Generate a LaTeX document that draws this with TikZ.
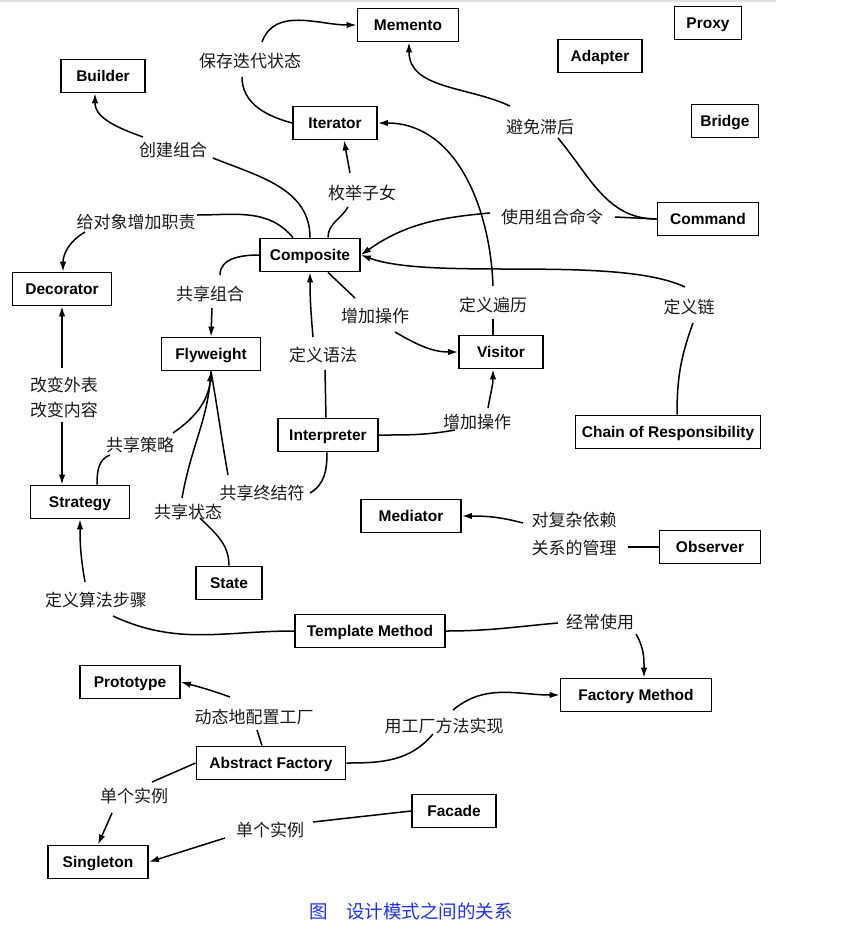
\documentclass[tikz,border=0pt]{standalone}
\usepackage{fontspec}
\setmainfont{Liberation Sans}
\newfontfamily\cjk{Noto Sans CJK SC}
\usetikzlibrary{positioning, arrows.meta}
\definecolor{capblue}{RGB}{30,50,225}

\begin{document}
\begin{tikzpicture}[
    x=1pt, y=1pt,
    >={Latex[length=10pt, width=6.5pt]},
    dpbox/.style={draw=black, line width=1.8pt, minimum height=33pt, inner sep=0pt, text height=10.5pt, text depth=0pt, font=\fontsize{15.5}{17}\selectfont\bfseries},
    link/.style={draw=black, line width=1.5pt},
    tag/.style={inner sep=2pt, text=black!90, font=\fontsize{17}{25}\selectfont\cjk}
]
\useasboundingbox (0,0) rectangle (854,-932);
\draw[black!12, line width=2pt] (0,-1) -- (776,-1);

% Pattern boxes
\node[dpbox, minimum width=101pt] (memento) at (408,-25) {Memento};
\node[dpbox, minimum width=67pt] (proxy) at (708,-23) {Proxy};
\node[dpbox, minimum width=84pt] (adapter) at (600,-56) {Adapter};
\node[dpbox, minimum width=67pt] (bridge) at (725,-121) {Bridge};
\node[dpbox, minimum width=101pt] (command) at (708,-219) {Command};
\node[dpbox, minimum width=84pt] (builder) at (103,-76) {Builder};
\node[dpbox, minimum width=84pt] (iterator) at (335,-123) {Iterator};
\node[dpbox, minimum width=100pt] (composite) at (310,-255) {Composite};
\node[dpbox, minimum width=99pt] (decorator) at (62,-289) {Decorator};
\node[dpbox, minimum width=99pt] (flyweight) at (211,-354) {Flyweight};
\node[dpbox, minimum width=84pt] (visitor) at (501,-352) {Visitor};
\node[dpbox, minimum width=100pt] (interpreter) at (328,-435) {Interpreter};
\node[dpbox, minimum width=185pt] (chain) at (668,-432) {Chain of Responsibility};
\node[dpbox, minimum width=99pt] (strategy) at (80,-502) {Strategy};
\node[dpbox, minimum width=100pt] (mediator) at (411,-516) {Mediator};
\node[dpbox, minimum width=101pt] (observer) at (710,-547) {Observer};
\node[dpbox, minimum width=66pt] (state) at (229,-583) {State};
\node[dpbox, minimum width=150pt] (template) at (370,-631) {Template Method};
\node[dpbox, minimum width=100pt] (prototype) at (130,-682) {Prototype};
\node[dpbox, minimum width=151pt] (factorymethod) at (636,-695) {Factory Method};
\node[dpbox, minimum width=149pt] (abstractfactory) at (271,-763) {Abstract Factory};
\node[dpbox, minimum width=84pt] (facade) at (454,-811) {Facade};
\node[dpbox, minimum width=100pt] (singleton) at (98,-862) {Singleton};

% Relation labels
\node[tag] (saveiter) at (250,-61) {保存迭代状态};
\node[tag] (create) at (173,-150) {创建组合};
\node[tag] (enumkids) at (362,-193) {枚举子女};
\node[tag] (addresp) at (136,-222) {给对象增加职责};
\node[tag] (sharecomp) at (210,-294) {共享组合};
\node[tag] (addop) at (375,-316) {增加操作};
\node[tag] (avoidlag) at (540,-127) {避免滞后};
\node[tag] (usecmd) at (552,-217) {使用组合命令};
\node[tag] (deftrav) at (493,-305) {定义遍历};
\node[tag] (defchain) at (689,-307) {定义链};
\node[tag] (defgram) at (323,-355) {定义语法};
\node[tag, align=center] (skin) at (64,-397) {改变外表\\改变内容};
\node[tag] (sharestrat) at (140,-445) {共享策略};
\node[tag] (shareterm) at (262,-493) {共享终结符};
\node[tag] (sharestate) at (188,-512) {共享状态};
\node[tag] (addoptwo) at (477,-422) {增加操作};
\node[tag, align=center, font=\fontsize{17}{28}\selectfont\cjk] (depmgmt) at (574,-534) {对复杂依赖\\关系的管理};
\node[tag] (algsteps) at (96,-600) {定义算法步骤};
\node[tag] (oftenuse) at (600,-622) {经常使用};
\node[tag] (dynconf) at (254,-717) {动态地配置工厂};
\node[tag] (byfm) at (444,-726) {用工厂方法实现};
\node[tag] (singleone) at (134,-796) {单个实例};
\node[tag] (singletwo) at (270,-830) {单个实例};

% Relations
\draw[link] (iterator.west) to[out=165, in=-90] ([shift={(-8,-16)}]saveiter.center);
\draw[link, ->] ([shift={(12,19)}]saveiter.center) to[out=70, in=180] (memento.west);

\draw[link] (composite.north) to[out=90, in=-22] ([shift={(40,-8)}]create.center);
\draw[link, ->] ([shift={(-30,13)}]create.center) to[out=160, in=-90] ([xshift=-8pt]builder.south);

\draw[link] ([xshift=18pt]composite.north) to[out=90, in=-120] ([shift={(-14,-14)}]enumkids.center);
\draw[link, ->] ([shift={(-12,20)}]enumkids.center) -- ([xshift=9pt]iterator.south);

\draw[link] ([xshift=-17pt]composite.north) to[out=130, in=0] ([shift={(61,7)}]addresp.center);
\draw[link, ->] ([shift={(-51,-10)}]addresp.center) to[out=-150, in=90] ([xshift=1pt]decorator.north);

\draw[link] (composite.west) to[out=180, in=90] ([shift={(10,19)}]sharecomp.center);
\draw[link, ->] ([shift={(2,-14)}]sharecomp.center) -- (flyweight.north);

\draw[link] ([xshift=18pt]composite.south) -- ([shift={(-20,18)}]addop.center);
\draw[link, ->] ([shift={(20,-16)}]addop.center) to[out=-30, in=180] (visitor.west);

\draw[link] ([xshift=-2pt]interpreter.north) -- ([shift={(2,-15)}]defgram.center);
\draw[link, ->] ([shift={(-10,18)}]defgram.center) to[out=95, in=-90] (composite.south);

\draw[link] ([xshift=-8pt]visitor.north) -- ([shift={(0,-14)}]deftrav.center);
\draw[link, ->] ([shift={(0,19)}]deftrav.center) to[out=92, in=0] (iterator.east);

\draw[link] (command.west) to[out=180, in=-50] ([shift={(18,-11)}]avoidlag.center);
\draw[link, ->] ([shift={(-30,21)}]avoidlag.center) to[out=155, in=-90] ([xshift=1pt]memento.south);

\draw[link] (command.west) -- ([shift={(63,0)}]usecmd.center);
\draw[link, ->] ([shift={(-62,4)}]usecmd.center) to[out=185, in=35] (composite.east);

\draw[link] ([xshift=9pt]chain.north) to[out=90, in=-110] ([shift={(4,-16)}]defchain.center);
\draw[link, ->] ([shift={(-4,20)}]defchain.center) to[out=155, in=-20, looseness=0.6] (composite.east);

\draw[link] (interpreter.east) to[out=0, in=190] ([shift={(-22,-8)}]addoptwo.center);
\draw[link, ->] ([shift={(11,14)}]addoptwo.center) to[out=80, in=-90] ([xshift=-8pt]visitor.south);

\draw[link, ->] ([shift={(-2,29)}]skin.center) -- (decorator.south);
\draw[link, ->] ([shift={(-2,-25)}]skin.center) -- ([xshift=-18pt]strategy.north);

\draw[link] ([xshift=17pt]strategy.north) to[out=90, in=200] ([shift={(-30,-10)}]sharestrat.center);
\draw[link] ([shift={(33,12)}]sharestrat.center) to[out=35, in=-90] (flyweight.south);

\draw[link] (state.north) to[out=90, in=-45] ([shift={(12,-6)}]sharestate.center);
\draw[link, ->] ([shift={(-6,14)}]sharestate.center) to[out=80, in=-95] (flyweight.south);

\draw[link] ([xshift=-1pt]interpreter.south) to[out=-90, in=30] ([shift={(48,0)}]shareterm.center);
\draw[link] ([shift={(-34,18)}]shareterm.center) to[out=100, in=-80] (flyweight.south);

\draw[link] (template.west) to[out=180, in=-25] ([shift={(17,-16)}]algsteps.center);
\draw[link, ->] ([shift={(-11,18)}]algsteps.center) to[out=100, in=-90] (strategy.south);

\draw[link] (template.east) to[out=0, in=185] ([shift={(-42,-1)}]oftenuse.center);
\draw[link, ->] ([shift={(36,-12)}]oftenuse.center) to[out=-60, in=90] ([xshift=8pt]factorymethod.north);

\draw[link] ([xshift=-9pt]abstractfactory.north) -- ([shift={(3,-13)}]dynconf.center);
\draw[link, ->] ([shift={(-24,20)}]dynconf.center) to[out=160, in=-15] (prototype.east);

\draw[link] (abstractfactory.east) to[out=0, in=-130] ([shift={(-11,-8)}]byfm.center);
\draw[link, ->] ([shift={(9,16)}]byfm.center) to[out=40, in=180] (factorymethod.west);

\draw[link] (abstractfactory.west) -- ([shift={(18,14)}]singleone.center);
\draw[link, ->] ([shift={(-22,-17)}]singleone.center) -- (singleton.north);

\draw[link] (facade.west) -- ([shift={(43,8)}]singletwo.center);
\draw[link, ->] ([shift={(-45,-8)}]singletwo.center) -- (singleton.east);

\draw[link] (observer.west) -- ([shift={(54,-13)}]depmgmt.center);
\draw[link, ->] ([shift={(-51,11)}]depmgmt.center) to[out=165, in=0] (mediator.east);

% Caption
\node[text=capblue, font=\fontsize{18.5}{22}\selectfont\cjk] (caption) at (411,-911) {图\hspace{1em}设计模式之间的关系};

\end{tikzpicture}
\end{document}
